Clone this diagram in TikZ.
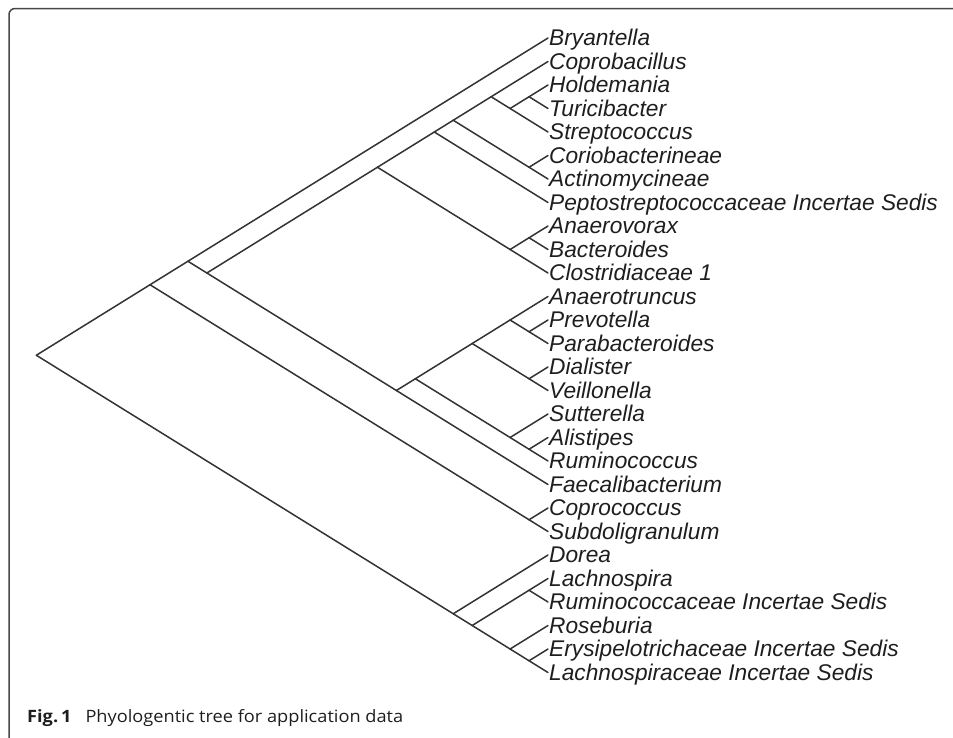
\documentclass[tikz,border=0pt]{standalone}
\usepackage{fontspec}
\setmainfont{Liberation Sans}
\newfontfamily\capfont{Open Sans}
\usetikzlibrary{calc}
\definecolor{ink}{HTML}{333333}
\definecolor{txt}{HTML}{1E1E1E}
\newcommand{\cl}[3]{\coordinate (#1) at ({548-23.5*(#3-#2)/1.24}, {-(38+23.5*(#2+#3)/2)});}
\begin{document}
\begin{tikzpicture}[x=1pt,y=1pt,
  edge/.style={draw=ink, line width=1.5pt, line cap=round},
  frameline/.style={draw=ink!90, line width=1.5pt},
  lab/.style={anchor=base west, inner sep=0pt, text=txt, font=\fontsize{22.7}{24}\selectfont\itshape},
  captext/.style={anchor=base west, inner sep=0pt, text=txt, font=\capfont\fontsize{17}{20}\selectfont}]
\useasboundingbox (0,0) rectangle (953,-737);
% frame
\draw[frameline, rounded corners=6pt] (9,-745) -- (9,-8.5) -- (965,-8.5);
% leaves
\foreach \i/\name in {0/Bryantella, 1/Coprobacillus, 2/Holdemania, 3/Turicibacter, 4/Streptococcus,
  5/Coriobacterineae, 6/Actinomycineae, 7/Peptostreptococcaceae Incertae Sedis, 8/Anaerovorax,
  9/Bacteroides, 10/Clostridiaceae 1, 11/Anaerotruncus, 12/Prevotella, 13/Parabacteroides,
  14/Dialister, 15/Veillonella, 16/Sutterella, 17/Alistipes, 18/Ruminococcus, 19/Faecalibacterium,
  20/Coprococcus, 21/Subdoligranulum, 22/Dorea, 23/Lachnospira, 24/Ruminococcaceae Incertae Sedis,
  25/Roseburia, 26/Erysipelotrichaceae Incertae Sedis, 27/Lachnospiraceae Incertae Sedis}{
  \coordinate (t\i) at (548, {-(38+23.5*\i)});
  \node[lab] (n\i) at ($(t\i)+(1,-7.8)$) {\name};
}
% internal nodes
\cl{r}{0}{27}
\cl{A}{0}{21}
\cl{L}{22}{27}
\cl{B}{0}{19}
\cl{CS}{20}{21}
\cl{C}{1}{19}
\cl{D1}{1}{10}
\cl{E}{11}{19}
\cl{F}{1}{7}
\cl{AB}{8}{10}
\cl{ab2}{8}{9}
\cl{G}{1}{6}
\cl{CA}{5}{6}
\cl{H}{1}{4}
\cl{HS}{2}{4}
\cl{HT}{2}{3}
\cl{E1}{11}{18}
\cl{E2}{11}{15}
\cl{SA}{16}{18}
\cl{AR}{17}{18}
\cl{AP}{11}{13}
\cl{PP}{12}{13}
\cl{DV}{14}{15}
\cl{L1}{23}{27}
\cl{LR}{23}{24}
\cl{RE}{25}{27}
\cl{EL}{26}{27}
% edges
\foreach \p/\c in {r/A, r/L, A/B, A/CS, CS/t20, CS/t21, B/t0, B/C, C/D1, C/E,
  D1/F, D1/AB, AB/ab2, AB/t10, ab2/t8, ab2/t9, F/G, F/t7, G/H, G/CA, CA/t5, CA/t6,
  H/t1, H/HS, HS/HT, HS/t4, HT/t2, HT/t3, E/E1, E/t19, E1/E2, E1/SA, SA/t16, SA/AR,
  AR/t17, AR/t18, E2/AP, E2/DV, AP/t11, AP/PP, PP/t12, PP/t13, DV/t14, DV/t15,
  L/t22, L/L1, L1/LR, L1/RE, LR/t23, LR/t24, RE/t25, RE/EL, EL/t26, EL/t27}{
  \draw[edge] (\p) -- (\c);
}
% caption
\node[captext] (cap) at (27,-722) {\resizebox{376pt}{\height}{\textbf{Fig.\,1}\hspace{13pt}Phyologentic tree for application data}};
\end{tikzpicture}
\end{document}
